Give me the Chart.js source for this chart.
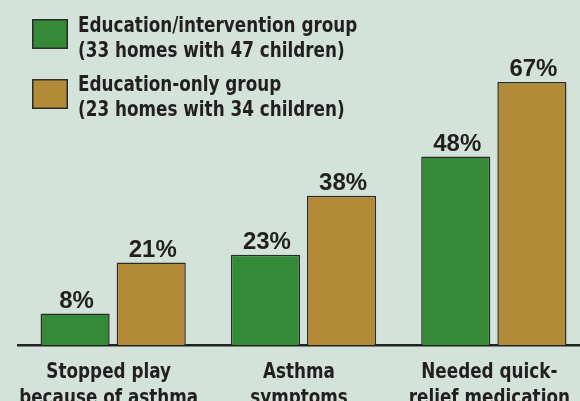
<!DOCTYPE html>
<html>
<head>
<meta charset="utf-8">
<script src="https://cdn.jsdelivr.net/npm/chart.js@4"></script>
<style>
  html, body { margin: 0; padding: 0; background: #d3e3da; overflow: hidden; width: 580px; height: 401px; }
  #wrap { position: absolute; left: 0; top: 0; width: 589px; height: 401px; }
  #c { display: block; width: 589px; height: 401px; }
</style>
</head>
<body>
<div id="wrap"><canvas id="c" width="589" height="401"></canvas></div>
<script>
const categories = [
  ["Stopped play", "because of asthma"],
  ["Asthma", "symptoms"],
  ["Needed quick-", "relief medication"]
];
const seriesNames = [
  ["Education/intervention group", "(33 homes with 47 children)"],
  ["Education-only group", "(23 homes with 34 children)"]
];
const interventionValues = [8, 23, 48];
const educationOnlyValues = [21, 38, 67];

const GREEN = '#348a37';
const GOLD = '#b38b38';
const EDGE = '#2b2b2b';
const TEXT = '#231f20';
const NARROW = '"DejaVu Sans Condensed", "DejaVu Sans", sans-serif';
const WIDE = '"Liberation Sans", Arial, sans-serif';
const SQUEEZE = 0.85;

const valueLabels = {
  id: 'valueLabels',
  afterDatasetsDraw(chart) {
    const ctx = chart.ctx;
    ctx.save();
    ctx.fillStyle = TEXT;
    ctx.font = 'bold 24px ' + WIDE;
    ctx.textAlign = 'center';
    ctx.textBaseline = 'alphabetic';
    chart.data.datasets.forEach((ds, di) => {
      chart.getDatasetMeta(di).data.forEach((bar, i) => {
        ctx.fillText(ds.data[i] + '%', bar.x + 1.5, bar.y - 6);
      });
    });
    ctx.restore();
  }
};

const customLegend = {
  id: 'customLegend',
  afterDraw(chart) {
    const ctx = chart.ctx;
    ctx.save();
    const tops = [19, 79];
    const baselines = [[31.7, 56.7], [91, 115.5]];
    chart.data.datasets.forEach((ds, di) => {
      ctx.fillStyle = ds.backgroundColor;
      ctx.fillRect(32, tops[di], 36, 30);
      ctx.strokeStyle = EDGE;
      ctx.lineWidth = 1.5;
      ctx.strokeRect(32.75, tops[di] + 0.75, 34.5, 28.5);
      ctx.fillStyle = TEXT;
      ctx.font = 'bold 22px ' + NARROW;
      ctx.textAlign = 'left';
      ctx.textBaseline = 'alphabetic';
      ds.label.forEach((line, li) => {
        ctx.save();
        ctx.translate(78, baselines[di][li]);
        ctx.scale(SQUEEZE, 1);
        ctx.fillText(line, 0, 0);
        ctx.restore();
      });
    });
    ctx.restore();
  }
};

// Draw x tick labels horizontally condensed (the reference uses a condensed face)
const condensedTicks = {
  id: 'condensedTicks',
  afterLayout(chart) {
    const s = chart.scales.x;
    if (!s || s._condensedPatched) return;
    s._condensedPatched = true;
    const orig = s.drawLabels;
    s.drawLabels = function (chartArea) {
      try {
        const ctx = this.ctx;
        const items = this.getLabelItems(chartArea);
        for (const item of items) {
          const o = item.options;
          const lines = Array.isArray(item.label) ? item.label : [item.label];
          ctx.save();
          ctx.translate(o.translation[0], o.translation[1]);
          ctx.scale(SQUEEZE, 1);
          ctx.font = item.font.string;
          ctx.fillStyle = o.color;
          ctx.textAlign = o.textAlign;
          ctx.textBaseline = o.textBaseline;
          lines.forEach((ln, k) => ctx.fillText(ln, 0, item.textOffset + k * item.font.lineHeight));
          ctx.restore();
        }
      } catch (e) {
        orig.call(this, chartArea);
      }
    };
  }
};

new Chart(document.getElementById('c'), {
  type: 'bar',
  data: {
    labels: categories,
    datasets: [
      { label: seriesNames[0], data: interventionValues, backgroundColor: GREEN, borderColor: EDGE, borderWidth: 1.5 },
      { label: seriesNames[1], data: educationOnlyValues, backgroundColor: GOLD, borderColor: EDGE, borderWidth: 1.5 }
    ]
  },
  options: {
    responsive: false,
    maintainAspectRatio: false,
    animation: false,
    devicePixelRatio: 1,
    layout: { padding: { left: 18, right: 0, top: 31, bottom: 0 } },
    datasets: { bar: { categoryPercentage: 0.8, barPercentage: 0.908 } },
    plugins: { legend: { display: false }, tooltip: { enabled: false } },
    scales: {
      y: { display: false, min: 0, max: 80 },
      x: {
        grid: { display: false },
        border: { display: true, color: '#222222', width: 2.5 },
        afterFit(scale) {
          scale.height = 56;
          scale.paddingLeft = 0;
          scale.paddingRight = 0;
        },
        ticks: {
          color: TEXT,
          font: { family: NARROW, size: 22, weight: 'bold', lineHeight: 1.2 },
          padding: 6,
          labelOffset: -4.5,
          maxRotation: 0,
          autoSkip: false
        }
      }
    }
  },
  plugins: [valueLabels, customLegend, condensedTicks]
});
</script>
</body>
</html>
